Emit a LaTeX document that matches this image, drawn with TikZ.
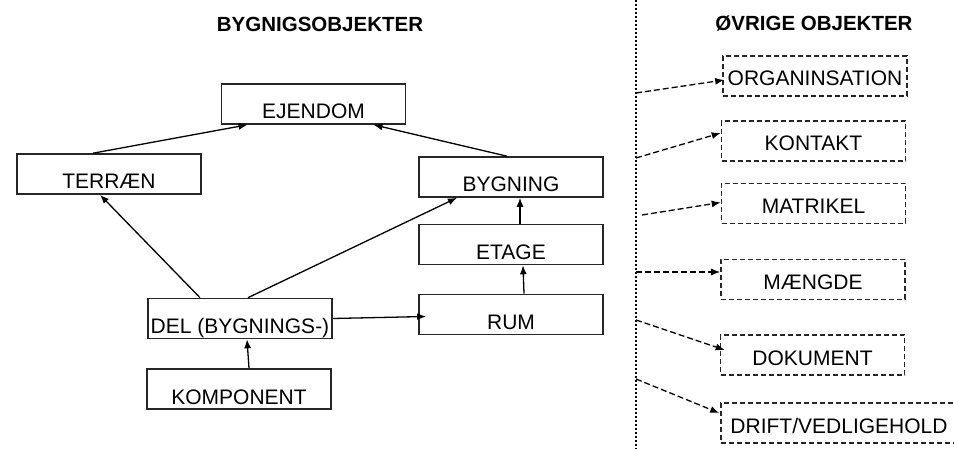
\documentclass[tikz,border=0pt]{standalone}
\usepackage{fontspec}
\setmainfont{Liberation Sans}
\usepackage{tikz}
\usetikzlibrary{arrows.meta}
\usetikzlibrary{calc}

\tikzset{
    bldbox/.style={draw=black!85, line width=1.6pt, rectangle, minimum width=184pt,
        minimum height=40pt, inner sep=0pt, text height=30pt, text depth=0pt},
    othbox/.style={bldbox, dash pattern=on 5pt off 3pt, text height=20pt},
    hdr/.style={font=\fontsize{20.5}{24}\selectfont\bfseries}
}

\begin{document}
\begin{tikzpicture}[x=1pt, y=-1pt, ->, >={Latex[length=9pt,width=7pt]}, line width=1.3pt,
        font=\fontsize{21}{24}\selectfont]
            % Fix the size of the page
            \clip (0,0) rectangle (954,449);
            % Headings
            \node[hdr] (hbyg) at (320,24) {BYGNIGSOBJEKTER};
            \node[hdr] (hovr) at (814,23) {ØVRIGE OBJEKTER};

            % Building objects
            \node[bldbox] (ejendom) at (313.5,104) {EJENDOM};
            \node[bldbox] (terraen) at (109,174) {TERRÆN};
            \node[bldbox] (bygning) at (511,177) {BYGNING};
            \node[bldbox] (etage) at (511,244.5) {ETAGE};
            \node[bldbox] (rum) at (511,314.5) {RUM};
            \node[bldbox] (del) at (240,318.5) {DEL (BYGNINGS-)};
            \node[bldbox] (komponent) at (239,389) {KOMPONENT};

            % Other objects
            \node[othbox] (org) at (815,76) {ORGANINSATION};
            \node[othbox] (kontakt) at (813.5,141) {KONTAKT};
            \node[othbox] (matrikel) at (813.5,203.5) {MATRIKEL};
            \node[othbox] (maengde) at (813,279.5) {MÆNGDE};
            \node[othbox] (dokument) at (812.5,355) {DOKUMENT};
            \node[othbox, minimum width=236pt] (drift) at (839,423) {DRIFT/VEDLIGEHOLD};

            % Dotted divider and the points on it
            \coordinate (divtop) at (636,0);
            \coordinate (divbot) at (636,449);
            \draw[-, line width=1.2pt, dash pattern=on 2pt off 2pt] (divtop) -- (divbot);
            \foreach \n/\y in {1/93, 2/158, 3/215, 4/272, 5/320, 6/379} {
                \coordinate (d\n) at (636,\y);
            }

            % Paths
            \draw ([xshift=-16pt]terraen.north) -- ([xshift=-66pt]ejendom.south); % TERRAEN -> EJENDOM
            \draw ([xshift=-4pt]bygning.north) -- ([xshift=60pt]ejendom.south); % BYGNING -> EJENDOM
            \draw ([xshift=-40pt]del.north) -- ([xshift=-9pt]terraen.south); % DEL -> TERRAEN
            \draw ([xshift=8pt]del.north) -- ([xshift=-54pt]bygning.south); % DEL -> BYGNING
            \draw (del.east) -- ([xshift=8pt,yshift=-2pt]rum.west); % DEL -> RUM
            \draw ([xshift=13pt]rum.north) -- ([xshift=12pt]etage.south); % RUM -> ETAGE
            \draw ([xshift=9pt]etage.north) -- ([xshift=9pt]bygning.south); % ETAGE -> BYGNING
            \draw ([xshift=10pt]komponent.north) -- ([xshift=7pt]del.south); % KOMPONENT -> DEL

            % Dashed paths to the other objects
            \begin{scope}[dash pattern=on 6pt off 3pt]
                \draw (d1) -- ([xshift=2pt,yshift=-4pt]org.west);
                \draw (d2) -- ([yshift=8pt]kontakt.west);
                \draw ([xshift=6pt]d3) -- ([yshift=1pt]matrikel.west);
                \draw (d4) -- ([yshift=7.5pt]maengde.west);
                \draw (d5) -- ([xshift=5pt,yshift=5pt]dokument.west);
                \draw (d6) -- ([xshift=-1pt,yshift=10pt]drift.west);
            \end{scope}
        \end{tikzpicture}
\end{document}
